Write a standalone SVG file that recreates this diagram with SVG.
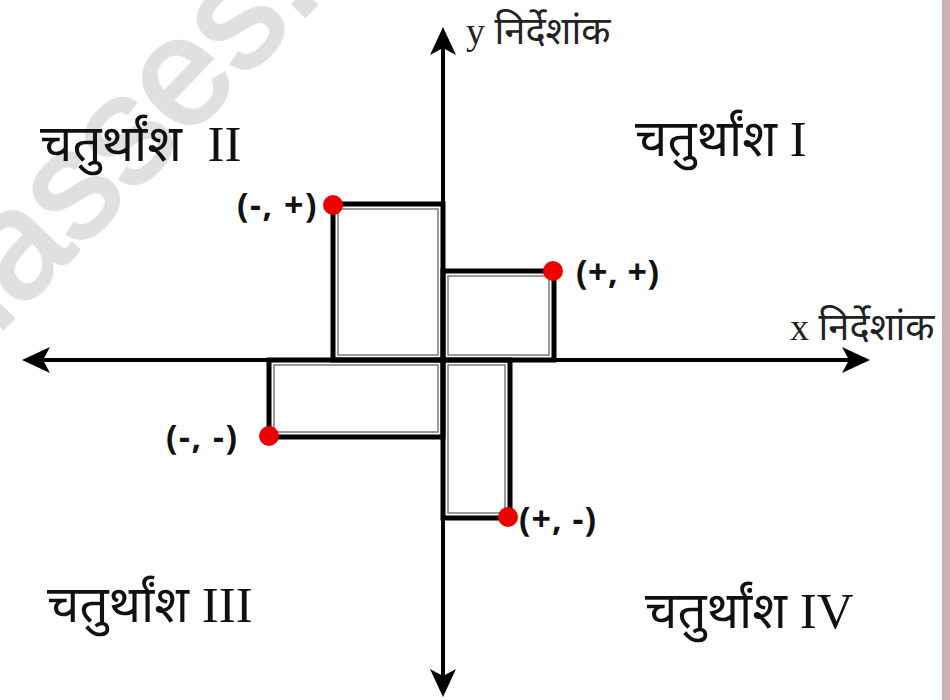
<svg xmlns="http://www.w3.org/2000/svg" width="950" height="700" viewBox="0 0 950 700">
  <style>
    .quad { font-family: "Liberation Serif", "Noto Sans", serif; font-size: 51px; fill: #111; }
    .axl { font-family: "Liberation Serif", "Noto Sans", serif; font-size: 38px; fill: #222; }
    .pt { font-family: "Open Sans", "Liberation Sans", sans-serif; font-weight: bold; font-size: 34px; fill: #111; }
    .outer { fill: none; stroke: #000; stroke-width: 5; }
    .inner { fill: none; stroke: #7a7a7a; stroke-width: 1.5; }
    .axis { stroke: #000; stroke-width: 4; fill: none; }
    .dot { fill: #ee0000; }
    .wm { font-family: "Liberation Sans", sans-serif; font-size: 152px; fill: #e0e0e0; stroke: #e0e0e0; stroke-width: 4; }
  </style>
  <rect x="0" y="0" width="950" height="700" fill="#ffffff"/>
  <rect x="942" y="0" width="8" height="700" fill="#cbb1b6"/>
  <text class="wm" transform="translate(325,-5) rotate(-46)" text-anchor="end">classes.</text>

  <g id="rect-q2">
    <rect class="outer" x="333" y="204" width="110" height="156"/>
    <rect class="inner" x="338" y="209" width="100" height="146"/>
  </g>
  <g id="rect-q1">
    <rect class="outer" x="443" y="271" width="111" height="89"/>
    <rect class="inner" x="448" y="276" width="101" height="79"/>
  </g>
  <g id="rect-q3">
    <rect class="outer" x="269" y="360" width="174" height="77"/>
    <rect class="inner" x="274" y="365" width="164" height="67"/>
  </g>
  <g id="rect-q4">
    <rect class="outer" x="443" y="360" width="67" height="158"/>
    <rect class="inner" x="448" y="365" width="57" height="148"/>
  </g>

  <g id="connectors">
    <line class="axis" x1="443" y1="40" x2="443" y2="680"/>
    <line class="axis" x1="35" y1="360" x2="860" y2="360"/>
    <polygon points="443,27 456,55 443,48 430,55" fill="#000"/>
    <polygon points="443,697 456,669 443,676 430,669" fill="#000"/>
    <polygon points="22,360 50,347 43,360 50,373" fill="#000"/>
    <polygon points="870,360 842,347 849,360 842,373" fill="#000"/>
  </g>

  <g id="dot-q2"><circle class="dot" cx="333" cy="205" r="10"/></g>
  <g id="dot-q1"><circle class="dot" cx="553" cy="271" r="10"/></g>
  <g id="dot-q3"><circle class="dot" cx="269" cy="436" r="10"/></g>
  <g id="dot-q4"><circle class="dot" cx="508" cy="517" r="10"/></g>

  <g id="label-q2-pt"><text class="pt" x="237" y="217" letter-spacing="1.5">(-, +)</text></g>
  <g id="label-q1-pt"><text class="pt" x="576" y="284" letter-spacing="0.5">(+, +)</text></g>
  <g id="label-q3-pt"><text class="pt" x="166" y="449" letter-spacing="1.5">(-, -)</text></g>
  <g id="label-q4-pt"><text class="pt" x="519" y="531" letter-spacing="1">(+, -)</text></g>

  <g id="quad-2"><text class="quad" x="40" y="161" xml:space="preserve">चतुर्थांश  II</text></g>
  <g id="quad-1"><text class="quad" x="635" y="156">चतुर्थांश I</text></g>
  <g id="quad-3"><text class="quad" x="47" y="622">चतुर्थांश III</text></g>
  <g id="quad-4"><text class="quad" x="645" y="628">चतुर्थांश IV</text></g>

  <g id="label-y"><text class="axl" x="466" y="44">y निर्देशांक</text></g>
  <g id="label-x"><text class="axl" x="790" y="340">x निर्देशांक</text></g>
</svg>
